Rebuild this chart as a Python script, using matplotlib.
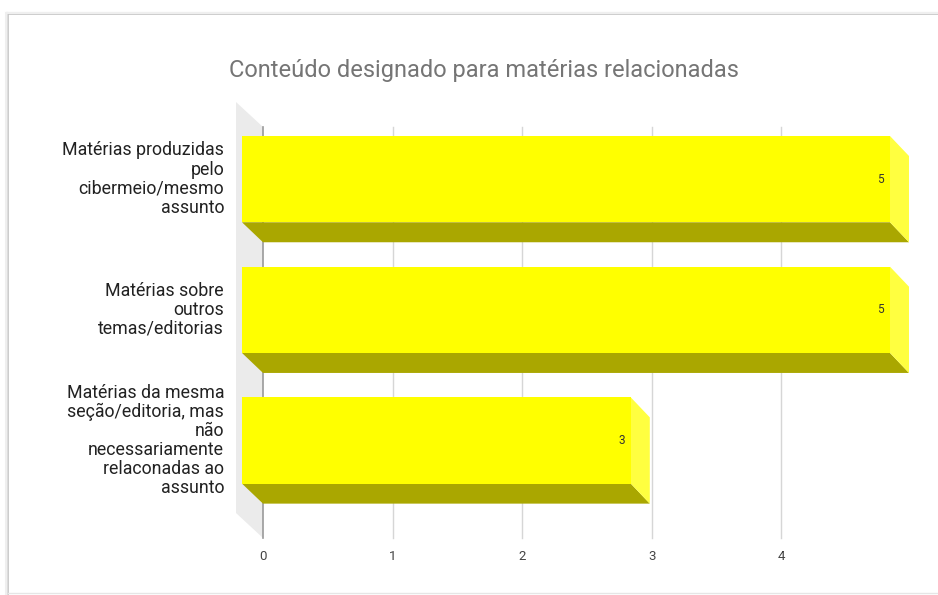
import matplotlib
matplotlib.use("Agg")
import matplotlib.pyplot as plt
from matplotlib.patches import Polygon, Rectangle
from matplotlib.lines import Line2D

plt.rcParams['font.family'] = ['Roboto', 'DejaVu Sans']

title = "Conteúdo designado para matérias relacionadas"
categories = [
    "Matérias produzidas\npelo\ncibermeio/mesmo\nassunto",
    "Matérias sobre\noutros\ntemas/editorias",
    "Matérias da mesma\nseção/editoria, mas\nnão\nnecessariamente\nrelaconadas ao\nassunto",
]
values = [5, 5, 3]
xticks = [0, 1, 2, 3, 4]

W, H = 938, 595
fig = plt.figure(figsize=(W / 100, H / 100), dpi=100)
fig.patch.set_facecolor("white")

# card frame with soft shadow
for off, col, lw in [(0, "#c4c4c4", 1.2), (2, "#dcdcdc", 1.5), (4, "#efefef", 1.5)]:
    fig.add_artist(Line2D([(8 - off * 0.5) / W, (8 - off * 0.5) / W],
                          [0, 1 - (14 - off * 0.3) / H],
                          transform=fig.transFigure, color=col, lw=lw))
    fig.add_artist(Line2D([(8) / W, 1], [1 - (14 - off * 0.3) / H, 1 - (14 - off * 0.3) / H],
                          transform=fig.transFigure, color=col, lw=lw))
fig.add_artist(Line2D([8 / W, 1], [1 - 593 / H, 1 - 593 / H],
                      transform=fig.transFigure, color="#e6e6e6", lw=1))

# axes = back plane of the 3D chart
x0, x1 = 263, 911
ytop, ybot = 127, 538
ax = fig.add_axes([x0 / W, 1 - ybot / H, (x1 - x0) / W, (ybot - ytop) / H])
ax.set_xlim(0, 5)
n = len(values)
ylo, yhi = -0.552, 2.593
ax.set_ylim(yhi, ylo)
for s in ax.spines.values():
    s.set_visible(False)
ax.set_facecolor("none")

px_x = 5 / (x1 - x0)
px_y = (yhi - ylo) / (ybot - ytop)
dx = 21 * px_x
dy = 20 * px_y
wdx = 27 * px_x
wdy = 25 * px_y

# left wall
ax.add_patch(Polygon([(-wdx, ylo - wdy), (0, ylo), (0, yhi), (-wdx, yhi - wdy)],
                     closed=True, facecolor="#ebebeb", edgecolor="none",
                     clip_on=False, zorder=0))
# gridlines
for t in xticks[1:]:
    ax.plot([t, t], [ylo, yhi], color="#d6d6d6", lw=1, zorder=1, clip_on=False)
ax.plot([0, 0], [ylo, yhi], color="#9a9a9a", lw=1.2, zorder=1, clip_on=False)

ax.set_xticks(xticks)
ax.set_xticklabels([str(t) for t in xticks])
ax.tick_params(axis="x", length=0, pad=9, labelsize=9.5, labelcolor="#444444")
ax.set_yticks([])

h = 0.33
for i, v in enumerate(values):
    c = i
    # bottom face
    ax.add_patch(Polygon([(-dx, c + h - dy), (v - dx, c + h - dy), (v - 2 * px_x, c + h), (0, c + h)],
                         closed=True, facecolor="#aaa700", edgecolor="none",
                         clip_on=False, zorder=3))
    # right face
    ax.add_patch(Polygon([(v - dx, c - h - dy), (v - 2 * px_x, c - h), (v - 2 * px_x, c + h), (v - dx, c + h - dy)],
                         closed=True, facecolor="#ffff40", edgecolor="none",
                         clip_on=False, zorder=3))
    # front face
    ax.add_patch(Rectangle((-dx, c - h - dy), v, 2 * h, facecolor="#ffff00",
                           edgecolor="none", clip_on=False, zorder=4))
    ax.text(v - dx - 6 * px_x, c - dy, str(v), ha="right", va="center",
            fontsize=8.5, color="#333333", zorder=5)
    ax.text(-39 * px_x, c - dy, categories[i], ha="right", va="center",
            multialignment="right", fontsize=12.8, color="#222222",
            linespacing=1.08, clip_on=False)

fig.text(484 / W, 1 - 70 / H, title, ha="center", va="center",
         fontsize=17, color="#757575")

fig.savefig("out.png", dpi=100, facecolor="white")
